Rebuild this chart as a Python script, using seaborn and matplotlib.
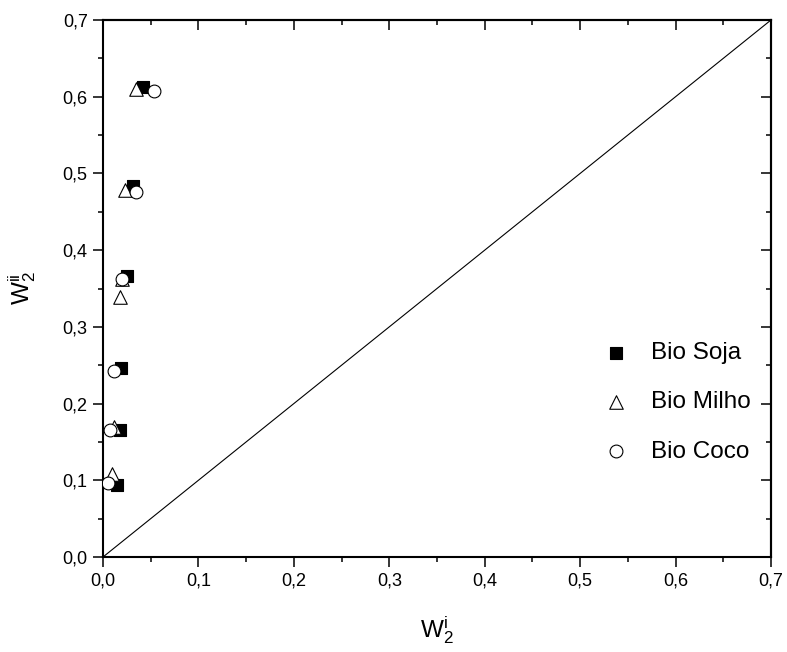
import matplotlib
matplotlib.use("Agg")
import matplotlib.pyplot as plt
import seaborn as sns
import numpy as np
import pandas as pd
from matplotlib.ticker import MultipleLocator, FuncFormatter

# ---- data ----
soja_x = [0.042, 0.031, 0.025, 0.019, 0.018, 0.015]
soja_y = [0.613, 0.484, 0.366, 0.246, 0.166, 0.094]
milho_x = [0.035, 0.023, 0.020, 0.018, 0.012, 0.009]
milho_y = [0.610, 0.478, 0.363, 0.339, 0.169, 0.108]
coco_x = [0.053, 0.035, 0.020, 0.012, 0.007, 0.005]
coco_y = [0.608, 0.476, 0.362, 0.243, 0.166, 0.096]
series_labels = ["Bio Soja", "Bio Milho", "Bio Coco"]
diag = [0.0, 0.7]

sns.set_style("ticks")
plt.rcParams["font.family"] = ["Liberation Sans", "DejaVu Sans"]
plt.rcParams["mathtext.fontset"] = "custom"
plt.rcParams["mathtext.rm"] = "Liberation Sans"
plt.rcParams["mathtext.it"] = "Liberation Sans"
plt.rcParams["mathtext.bf"] = "Liberation Sans:bold"
for k in ["text.color", "axes.labelcolor", "xtick.color", "ytick.color",
          "axes.edgecolor"]:
    plt.rcParams[k] = "black"

fig = plt.figure(figsize=(7.87, 6.52), dpi=100)
ax = fig.add_axes([103 / 787, 95 / 652, 668 / 787, 537 / 652])

ax.plot(diag, diag, color="black", lw=0.8, zorder=1)

df_s = pd.DataFrame({"x": soja_x, "y": soja_y})
df_m = pd.DataFrame({"x": milho_x, "y": milho_y})
df_c = pd.DataFrame({"x": coco_x, "y": coco_y})

sns.scatterplot(data=df_s, x="x", y="y", marker="s", s=64, color="black",
                edgecolor="black", linewidth=0.8, label=series_labels[0], ax=ax, zorder=3)
sns.scatterplot(data=df_m, x="x", y="y", marker="^", s=95, color="white",
                edgecolor="black", linewidth=0.8, label=series_labels[1], ax=ax, zorder=3)
sns.scatterplot(data=df_c, x="x", y="y", marker="o", s=85, color="white",
                edgecolor="black", linewidth=0.8, label=series_labels[2], ax=ax, zorder=3)

ax.set_xlim(0, 0.7)
ax.set_ylim(0, 0.7)

fmt = FuncFormatter(lambda v, p: f"{v:.1f}".replace(".", ","))
for axis in (ax.xaxis, ax.yaxis):
    axis.set_major_locator(MultipleLocator(0.1))
    axis.set_minor_locator(MultipleLocator(0.05))
    axis.set_major_formatter(fmt)

ax.tick_params(which="major", direction="out", length=7, width=1.1,
               labelsize=13, top=False, right=False, pad=4)
ax.tick_params(which="minor", direction="out", length=3.6, width=1.1,
               top=False, right=False)

for sp in ax.spines.values():
    sp.set_linewidth(1.5)
    sp.set_visible(True)
    sp.set_color("black")

sec_x = ax.secondary_xaxis("top")
sec_x.xaxis.set_major_locator(MultipleLocator(0.1))
sec_x.xaxis.set_minor_locator(MultipleLocator(0.05))
sec_x.tick_params(which="major", direction="in", length=7, width=1.1, labeltop=False)
sec_x.tick_params(which="minor", direction="in", length=3.6, width=1.1)
sec_x.spines["top"].set_linewidth(1.5)

sec_y = ax.secondary_yaxis("right")
sec_y.yaxis.set_major_locator(MultipleLocator(0.1))
sec_y.yaxis.set_minor_locator(MultipleLocator(0.05))
sec_y.tick_params(which="major", direction="in", length=7, width=1.1, labelright=False)
sec_y.tick_params(which="minor", direction="in", length=3.6, width=1.1)
sec_y.spines["right"].set_linewidth(1.5)

ax.set_xlabel(r"$\mathregular{W_2^{i}}$", fontsize=17.5, labelpad=18)
ax.set_ylabel(r"$\mathregular{W_2^{ii}}$", fontsize=17.5, labelpad=18)

leg = ax.legend(loc="upper left", bbox_to_anchor=(0.75, 0.40), frameon=False,
                fontsize=17.5, borderpad=0, borderaxespad=0,
                handlelength=1.0, handletextpad=0.95, labelspacing=1.12)

fig.savefig("out.png", dpi=100)
